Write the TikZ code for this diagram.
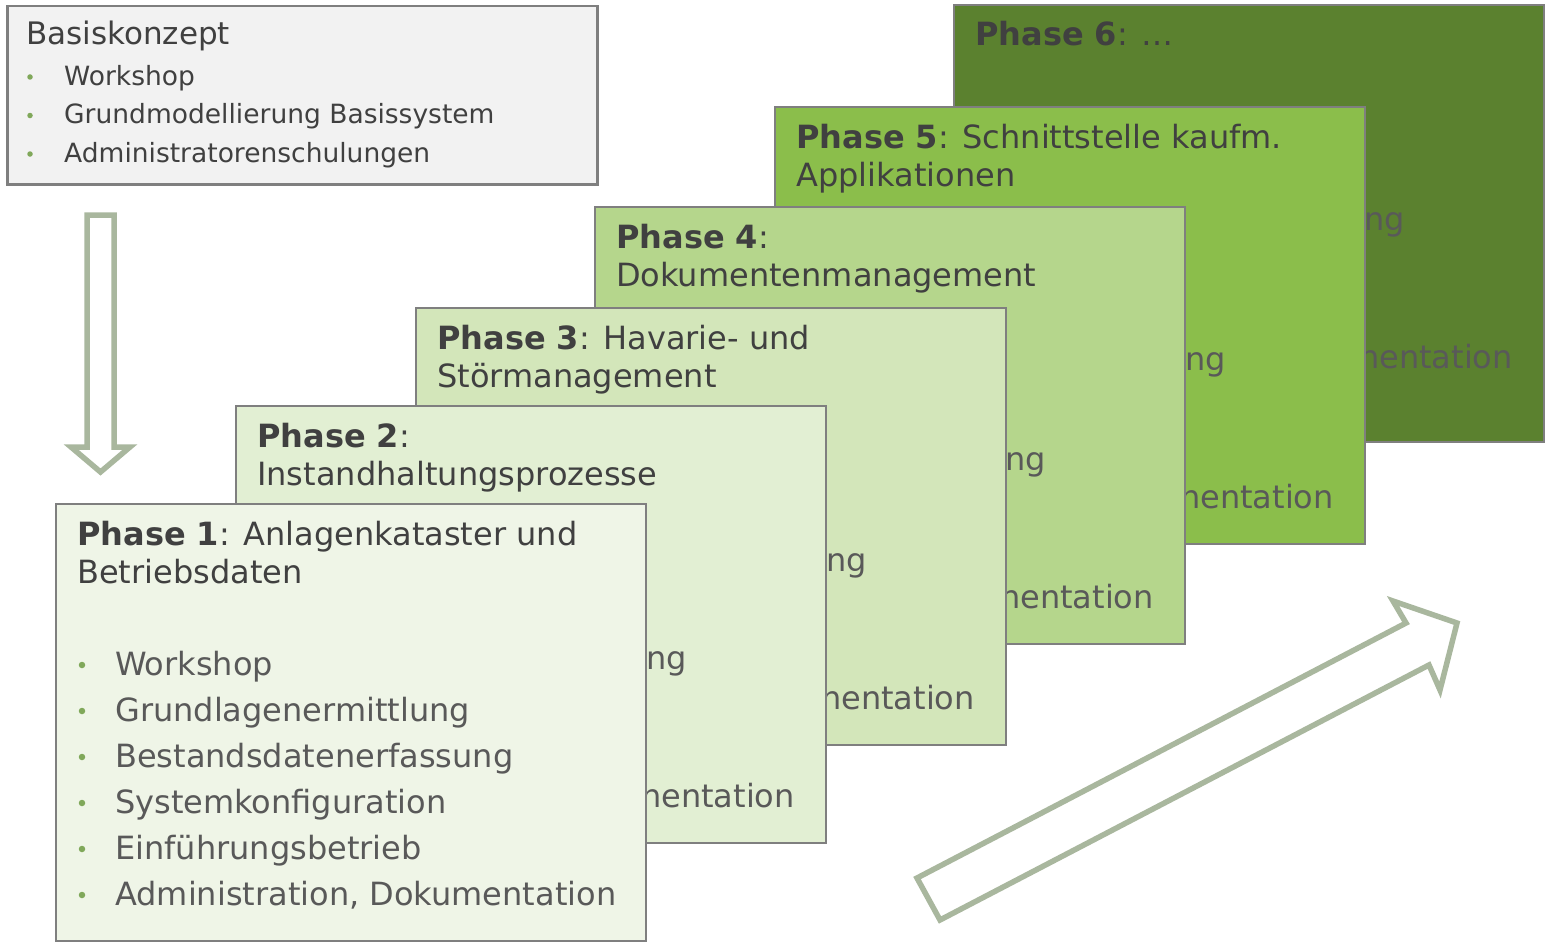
\documentclass[tikz,border=0pt]{standalone}
\usepackage{fontspec}
\setmainfont{DejaVu Sans}
\usetikzlibrary{calc}
\definecolor{ph1}{HTML}{EFF5E7}
\definecolor{ph2}{HTML}{E2EFD3}
\definecolor{ph3}{HTML}{D3E6BA}
\definecolor{ph4}{HTML}{B5D68C}
\definecolor{ph5}{HTML}{8BBE4B}
\definecolor{ph6}{HTML}{5B812F}
\definecolor{basisgray}{HTML}{F2F2F2}
\definecolor{bordergray}{HTML}{7F7F7F}
\definecolor{titlegray}{HTML}{404040}
\definecolor{textgray}{HTML}{595959}
\definecolor{dotgreen}{HTML}{80A85A}
\definecolor{arrowgreen}{HTML}{A9B79E}
\tikzset{
  phbox/.style={draw=bordergray, line width=2.5pt, rectangle, inner sep=0pt, outer sep=0pt,
    minimum width=590pt, minimum height=437pt, anchor=north west},
  ptitle/.style={anchor=base west, inner sep=0pt, text=titlegray, font=\fontsize{32}{38}\selectfont},
  pitem/.style={anchor=base west, inner sep=0pt, text=textgray, font=\fontsize{32}{38}\selectfont},
  pfrag/.style={anchor=base east, inner sep=0pt, text=textgray, font=\fontsize{32}{38}\selectfont},
  pdot/.style={circle, fill=dotgreen, inner sep=0pt, minimum size=6.5pt},
  btitle/.style={anchor=base west, inner sep=0pt, text=titlegray, font=\fontsize{31}{37}\selectfont},
  bitem/.style={anchor=base west, inner sep=0pt, text=titlegray, font=\fontsize{26.5}{32}\selectfont},
  bdot/.style={circle, fill=dotgreen, inner sep=0pt, minimum size=5.5pt},
  bigarrow/.style={draw=arrowgreen, line width=5.5pt, fill=white, line join=miter},
}
% box, title lines, and the parts of its list that the next box leaves visible
\newcommand\myphase[7]{%
  \node[phbox, fill=#4] (p#1) at (#2,#3) {};
  \node[ptitle] (p#1ta) at ($(p#1.north west)+(21,41)$) {#5};
  \node[ptitle] (p#1tb) at ($(p#1.north west)+(21,79)$) {#6};
  \node[pfrag] (p#1fa) at ($(p#1.north west)+(451,{#7+92})$) {ng};
  \node[pfrag] (p#1fb) at ($(p#1.north west)+(559,{#7+230})$) {nentation};
}
\begin{document}
\begin{tikzpicture}[x=1pt,y=-1pt]
\useasboundingbox (0,0) rectangle (1545,942);
% Basiskonzept
\node[draw=bordergray, line width=2.5pt, fill=basisgray, rectangle, inner sep=0pt,
  minimum width=590pt, minimum height=178pt, anchor=north west] (basis) at (6,5) {};
\node[btitle] (basist) at (26,45) {Basiskonzept};
\node[bitem] (basis1) at (64,85) {Workshop};
\node[bitem] (basis2) at (64,123.5) {Grundmodellierung Basissystem};
\node[bitem] (basis3) at (64,162) {Administratorenschulungen};
\node[bdot] (bd1) at (30,77) {};
\node[bdot] (bd2) at (30,115.5) {};
\node[bdot] (bd3) at (30,154) {};
% down arrow
\draw[bigarrow] (87,215) -- (114,215) -- (114,447) -- (130,447) -- (100.5,472) -- (71,447) -- (87,447) -- cycle;
% phases
\myphase{6}{954}{5}{ph6}{\textbf{Phase 6}: …}{}{133}
\myphase{5}{775}{107}{ph5}{\textbf{Phase 5}: Schnittstelle kaufm.}{Applikationen}{171}
\myphase{4}{595}{207}{ph4}{\textbf{Phase 4}:}{Dokumentenmanagement}{171}
\myphase{3}{416}{308}{ph3}{\textbf{Phase 3}: Havarie- und}{Störmanagement}{171}
\myphase{2}{236}{406}{ph2}{\textbf{Phase 2}:}{Instandhaltungsprozesse}{171}
% phase 1
\node[phbox, fill=ph1] (p1) at (56,504) {};
\node[ptitle] (p1ta) at ($(p1.north west)+(21,41)$) {\textbf{Phase 1}: Anlagenkataster und};
\node[ptitle] (p1tb) at ($(p1.north west)+(21,79)$) {Betriebsdaten};
\foreach \t [count=\k] in {Workshop,Grundlagenermittlung,Bestandsdatenerfassung,Systemkonfiguration,Einführungsbetrieb,{Administration, Dokumentation}} {
  \node[pitem] (p1i\k) at ($(p1.north west)+(59,{171+46*(\k-1)})$) {\t};
  \node[pdot] (p1d\k) at ($(p1.north west)+(26,{171+46*(\k-1)-10})$) {};
}
% diagonal arrow
\draw[bigarrow] (917,878) -- (1406,623) -- (1393,601) -- (1457,623) -- (1440,690) -- (1429,665) -- (940,920) -- cycle;
\end{tikzpicture}
\end{document}
